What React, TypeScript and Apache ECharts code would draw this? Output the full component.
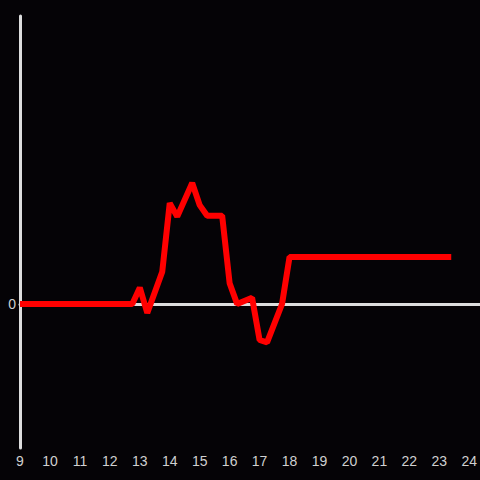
import React, { useEffect, useRef } from "react";
import * as echarts from "echarts";

const hours = [9, 12.75, 13, 13.25, 13.75, 14, 14.25, 14.75, 15, 15.25, 15.75, 16, 16.25, 16.75, 17, 17.25, 17.75, 18, 23.4];
const values = [0, 0, 0.17, -0.094, 0.336, 1.05, 0.91, 1.26, 1.03, 0.92, 0.92, 0.216, 0, 0.066, -0.375, -0.4, 0, 0.49, 0.49];
const xMin = 9;
const xMax = 24;
const yMin = -1.5;
const yMax = 3;

export default function App() {
  const ref = useRef<HTMLDivElement>(null);
  useEffect(() => {
    const chart = echarts.init(ref.current!, null, { renderer: "svg", width: 480, height: 480 });
    const labelStyle = {
      color: "#d0d0d0",
      fontSize: 14,
      fontFamily: "Liberation Sans, Arial, sans-serif",
    };
    chart.setOption({
      animation: false,
      backgroundColor: "#050306",
      grid: [
        { left: 20, width: 450, top: 16, height: 432 },
        { left: 20, width: 460, top: 16, height: 432 },
      ],
      xAxis: [
        {
          type: "value",
          gridIndex: 0,
          min: xMin,
          max: xMax,
          interval: 1,
          position: "bottom",
          axisLine: { show: false, onZero: false },
          axisTick: { show: false },
          splitLine: { show: false },
          axisLabel: { ...labelStyle, margin: 6 },
        },
        {
          type: "value",
          gridIndex: 1,
          min: 0,
          max: 1,
          position: "top",
          axisLine: { show: true, onZero: true, lineStyle: { color: "#dddddd", width: 3 } },
          axisTick: { show: false },
          axisLabel: { show: false },
          splitLine: { show: false },
        },
      ],
      yAxis: [
        {
          type: "value",
          gridIndex: 0,
          min: yMin,
          max: yMax,
          interval: 1.5,
          axisLine: { show: true, onZero: false, lineStyle: { color: "#dddddd", width: 3 } },
          axisTick: { show: false },
          splitLine: { show: false },
          axisLabel: {
            ...labelStyle,
            margin: 4,
            formatter: (v: number) => (v === 0 ? "0" : ""),
          },
        },
        {
          type: "value",
          gridIndex: 1,
          min: yMin,
          max: yMax,
          show: false,
        },
      ],
      series: [
        {
          type: "line",
          xAxisIndex: 0,
          yAxisIndex: 0,
          data: hours.map((h, i) => [h, values[i]]),
          symbol: "none",
          lineStyle: { color: "#ff0000", width: 6 },
          z: 3,
        },
      ],
    });
    return () => chart.dispose();
  }, []);
  return <div ref={ref} style={{ width: 480, height: 480, position: "fixed", left: 0, top: 0 }} />;
}
